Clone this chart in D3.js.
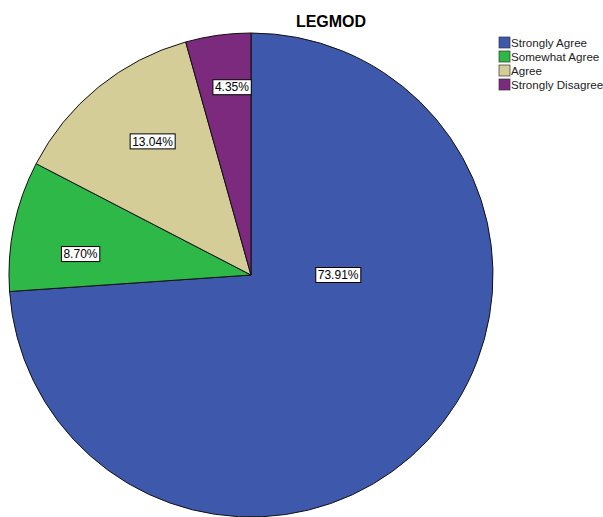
<!DOCTYPE html>
<html>
<head>
<meta charset="utf-8">
<script src="https://cdn.jsdelivr.net/npm/d3@7"></script>
<style>
  body { margin: 0; background: #fff; }
  text { font-family: "Liberation Sans", Arial, sans-serif; }
</style>
</head>
<body>
<svg id="chart" width="603" height="517"></svg>
<script>
var categories = ["Strongly Agree", "Somewhat Agree", "Agree", "Strongly Disagree"],
    counts = [17, 2, 3, 1],
    colors = ["#3E58AC", "#2EB848", "#D4CD98", "#7B2A7E"];

// where SPSS put each label: fraction of radius, angle clockwise from 12 o'clock
var labelAt = [[0.36, 90], [0.71, 277], [0.686, 323.6], [0.78, 354.2]];

var svg = d3.select("#chart"),
    cx = 251, cy = 275, r = 242;

var total = d3.sum(counts);

var data = categories.map(function(c, i) {
    return {name: c, value: counts[i], color: colors[i], label: labelAt[i]};
});

var pie = d3.pie()
    .sort(null)
    .value(function(d) { return d.value; });

var arc = d3.arc().innerRadius(0).outerRadius(r);

var g = svg.append("g")
    .attr("transform", "translate(" + cx + "," + cy + ")");

var arcs = pie(data);

g.selectAll("path")
    .data(arcs)
    .enter().append("path")
    .attr("d", arc)
    .attr("fill", function(d) { return d.data.color; })
    .attr("stroke", "#111")
    .attr("stroke-width", 1);

function labelPos(d) {
    var f = d.data.label[0] * r,
        a = d.data.label[1] * Math.PI / 180;
    return [f * Math.sin(a), -f * Math.cos(a)];
}

var fmt = function(v) { return (v / total * 100).toFixed(2) + "%"; };

var lab = g.selectAll(".lab")
    .data(arcs)
    .enter().append("g")
    .attr("class", "lab")
    .attr("transform", function(d) { return "translate(" + labelPos(d) + ")"; });

lab.append("text")
    .attr("text-anchor", "middle")
    .attr("dy", "0.35em")
    .attr("font-size", 12)
    .attr("fill", "#000")
    .text(function(d) { return fmt(d.data.value); });

lab.each(function() {
    var t = d3.select(this).select("text"),
        b = t.node().getBBox();
    d3.select(this).insert("rect", "text")
        .attr("x", b.x - 2)
        .attr("y", -7.5)
        .attr("width", b.width + 4)
        .attr("height", 15)
        .attr("fill", "#fff")
        .attr("stroke", "#000")
        .attr("stroke-width", 1);
});

svg.append("text")
    .attr("x", 331)
    .attr("y", 27)
    .attr("text-anchor", "middle")
    .attr("font-size", 16)
    .attr("font-weight", "bold")
    .text("LEGMOD");

var legend = svg.append("g")
    .attr("transform", "translate(499,37)");

var item = legend.selectAll("g")
    .data(data)
    .enter().append("g")
    .attr("transform", function(d, i) { return "translate(0," + (i * 14) + ")"; });

item.append("rect")
    .attr("width", 11)
    .attr("height", 11)
    .attr("fill", function(d) { return d.color; })
    .attr("stroke", "#333")
    .attr("stroke-width", 0.7);

item.append("text")
    .attr("x", 12)
    .attr("y", 10)
    .attr("font-size", 11.6)
    .attr("fill", "#222")
    .text(function(d) { return d.name; });
</script>
</body>
</html>
